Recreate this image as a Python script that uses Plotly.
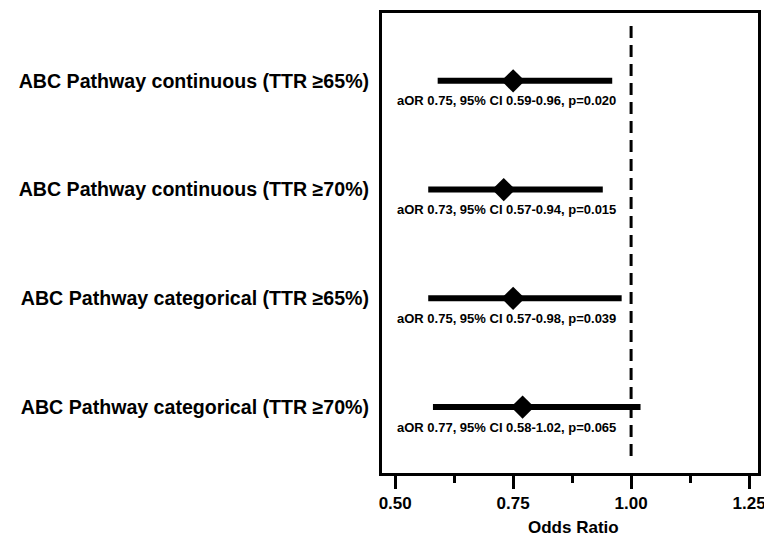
import plotly.graph_objects as go

labels = ["ABC Pathway continuous (TTR ≥65%)",
          "ABC Pathway continuous (TTR ≥70%)",
          "ABC Pathway categorical (TTR ≥65%)",
          "ABC Pathway categorical (TTR ≥70%)"]
aor = [0.75, 0.73, 0.75, 0.77]
ci_low = [0.59, 0.57, 0.57, 0.58]
ci_high = [0.96, 0.94, 0.98, 1.02]
pvals = ["0.020", "0.015", "0.039", "0.065"]
ypos = [4, 3, 2, 1]
tick_vals = [0.50, 0.75, 1.00, 1.25]
tick_text = ["0.50", "0.75", "1.00", "1.25"]
x_title = "Odds Ratio"

FONT = "Liberation Sans, Arial, sans-serif"

fig = go.Figure()

# reference line at OR = 1
fig.add_trace(go.Scatter(x=[1.0, 1.0], y=[4.505, 0.513], mode="lines",
                         line=dict(color="black", width=3, dash="12px,7px"),
                         hoverinfo="skip", showlegend=False))

for i in range(len(labels)):
    fig.add_trace(go.Scatter(x=[ci_low[i], ci_high[i]], y=[ypos[i], ypos[i]], mode="lines",
                             line=dict(color="black", width=6), showlegend=False))
fig.add_trace(go.Scatter(x=aor, y=ypos, mode="markers",
                         marker=dict(symbol="diamond", size=18, color="black"),
                         showlegend=False))

for i in range(len(labels)):
    fig.add_annotation(x=0.5, y=ypos[i], yshift=-20, xanchor="left", yanchor="middle",
                       text=f"aOR {aor[i]:.2f}, 95% CI {ci_low[i]:.2f}-{ci_high[i]:.2f}, p={pvals[i]}",
                       showarrow=False, font=dict(family=FONT, size=13, color="black", weight="bold"))

# x-axis title
fig.add_annotation(x=0.51, xref="paper", y=-0.119, yref="paper", xanchor="center", yanchor="middle",
                   text=x_title, showarrow=False,
                   font=dict(family=FONT, size=17, color="black", weight="bold"))

fig.update_layout(
    width=764, height=536,
    margin=dict(l=382, r=6, t=13, b=63),
    plot_bgcolor="white", paper_bgcolor="white",
    font=dict(family=FONT, color="black"),
    xaxis=dict(range=[0.472, 1.269], tickmode="array", tickvals=tick_vals, ticktext=tick_text,
               automargin=False, ticklabeloverflow="allow",
               ticks="outside", ticklen=13, tickwidth=3, tickcolor="black",
               tickfont=dict(family=FONT, size=17, color="black", weight="bold"),
               showline=True, linewidth=3, linecolor="black", mirror=True,
               showgrid=False, zeroline=False,
               minor=dict(tickvals=[0.625, 0.875, 1.125], ticks="outside", ticklen=7,
                          tickwidth=3, tickcolor="black", showgrid=False)),
    yaxis=dict(range=[0.394, 4.624], tickmode="array", tickvals=ypos, ticktext=labels,
               automargin=False,
               ticks="", ticklabelstandoff=6,
               tickfont=dict(family=FONT, size=19.6, color="black", weight="bold"),
               showline=True, linewidth=3, linecolor="black", mirror=True,
               showgrid=False, zeroline=False),
)

fig.write_html("out.html", config={"displayModeBar": False},
               post_script="document.body.style.margin='0';document.body.style.overflow='hidden';")
